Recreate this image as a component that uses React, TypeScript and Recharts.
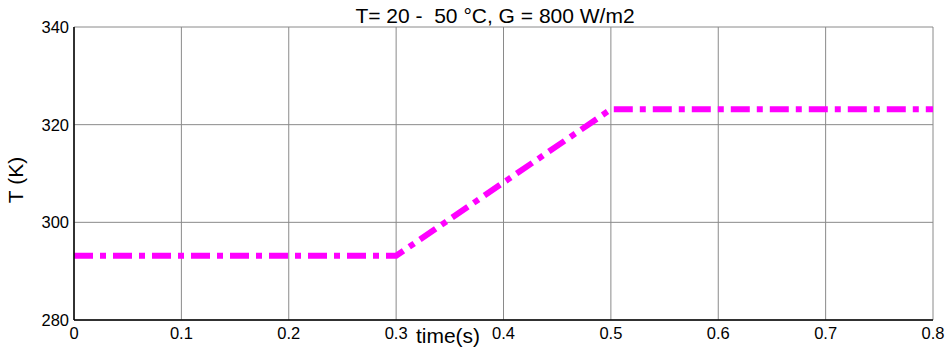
import { LineChart, Line, XAxis, YAxis, CartesianGrid, Label } from "recharts";

const FONT = "Arial, 'Liberation Sans', sans-serif";

// time (s) and module temperature (K)
const timeS = [0, 0.3, 0.5, 0.8];
const tempK = [293.15, 293.15, 323.15, 323.15];

const xTicks = [0, 0.1, 0.2, 0.3, 0.4, 0.5, 0.6, 0.7, 0.8];
const yTicks = [280, 300, 320, 340];

const TITLE = "T= 20 -  50 °C, G = 800 W/m2";

const data = timeS.map((t, i) => ({ t, T: tempK[i] }));

const emptyTick = () => <g />;

export default function App() {
  return (
    <div style={{ position: "absolute", left: 0, top: 0, background: "#fff" }}>
      <LineChart width={947} height={354} data={data} margin={{ top: 27, right: 14, left: 0, bottom: 0 }}>
        <CartesianGrid xAxisId="b" yAxisId="l" stroke="#8a8a8a" strokeWidth={1} />
        <XAxis
          xAxisId="b"
          dataKey="t"
          type="number"
          domain={[0, 0.8]}
          ticks={xTicks}
          height={34}
          tickSize={0}
          tickMargin={7}
          axisLine={{ stroke: "#000", strokeWidth: 1.5 }}
          tick={{ fill: "#000", fontSize: 16.5, fontFamily: FONT }}
        >
          <Label
            content={() => (
              <text x={448} y={343} textAnchor="middle" fontSize={21} fontFamily={FONT} fill="#000">
                time(s)
              </text>
            )}
          />
        </XAxis>
        <XAxis
          xAxisId="t"
          orientation="top"
          type="number"
          dataKey="t"
          domain={[0, 0.8]}
          ticks={xTicks}
          height={0}
          mirror
          tickSize={5}
          tick={emptyTick}
          axisLine={{ stroke: "#000", strokeWidth: 1.5 }}
          tickLine={{ stroke: "#000" }}
        />
        <YAxis
          yAxisId="l"
          type="number"
          domain={[280, 340]}
          ticks={yTicks}
          width={74}
          tickSize={0}
          tickMargin={5}
          axisLine={{ stroke: "#000", strokeWidth: 1.5 }}
          tick={{ fill: "#000", fontSize: 16.5, fontFamily: FONT }}
        >
          <Label
            content={() => (
              <g>
                <text
                  x={23}
                  y={180}
                  textAnchor="middle"
                  fontSize={21}
                  fontFamily={FONT}
                  fill="#000"
                  transform="rotate(-90 23 180)"
                >
                  T (K)
                </text>
                <text
                  x={495}
                  y={23}
                  textAnchor="middle"
                  fontSize={21}
                  fontFamily={FONT}
                  fill="#000"
                  style={{ whiteSpace: "pre" }}
                >
                  {TITLE}
                </text>
              </g>
            )}
          />
        </YAxis>
        <YAxis
          yAxisId="r"
          orientation="right"
          type="number"
          domain={[280, 340]}
          ticks={yTicks}
          width={0}
          mirror
          tickSize={5}
          tick={emptyTick}
          axisLine={{ stroke: "#000", strokeWidth: 1.5 }}
          tickLine={{ stroke: "#000" }}
        />
        <Line
          xAxisId="b"
          yAxisId="l"
          type="linear"
          dataKey="T"
          stroke="#ff00ff"
          strokeWidth={6}
          strokeDasharray="19 7 6 7"
          dot={false}
          activeDot={false}
          isAnimationActive={false}
        />
      </LineChart>
    </div>
  );
}
